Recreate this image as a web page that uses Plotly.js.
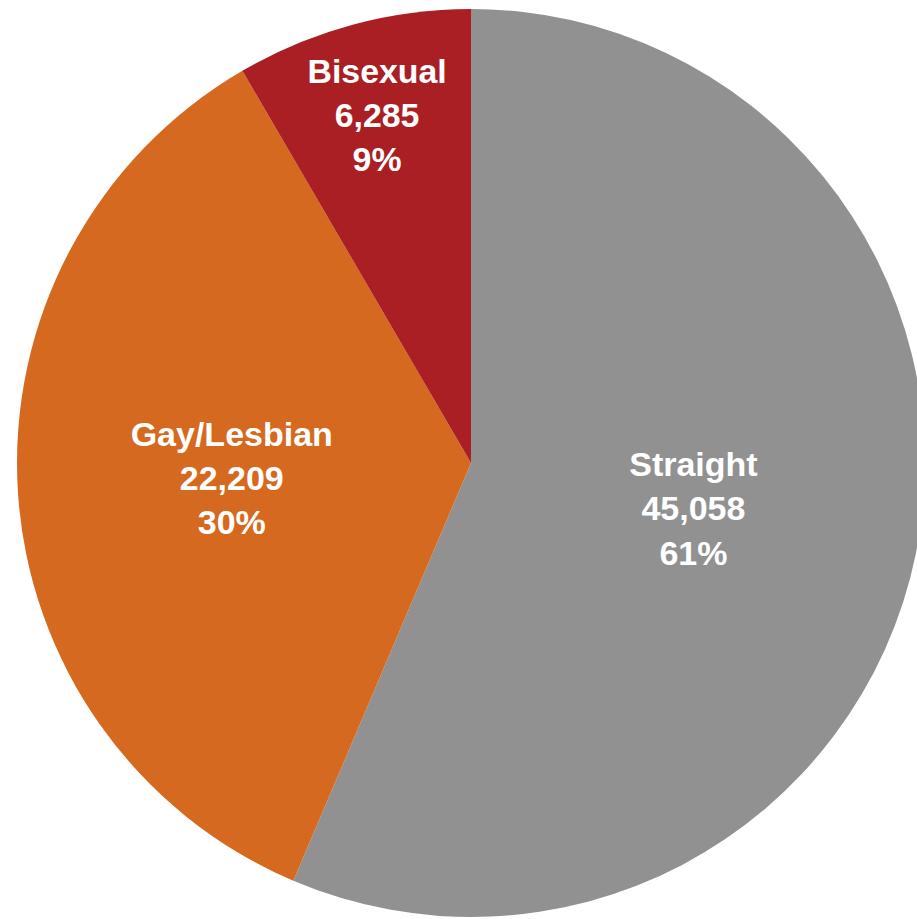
<!DOCTYPE html>
<html>
<head>
<meta charset="utf-8">
<script src="https://cdn.plot.ly/plotly-3.0.1.min.js"></script>
<style>
html, body { margin: 0; padding: 0; overflow: hidden; background: #fff; }
#chart { width: 935px; height: 919px; }
</style>
</head>
<body>
<div id="chart"></div>
<script>
// Categories and the figures printed on the chart
const categories = ["Straight", "Gay/Lesbian", "Bisexual"];
const counts = [45058, 22209, 6285];
const percentLabels = ["61%", "30%", "9%"];
// Slice sizes as actually drawn in the reference
const drawnShares = [56.4, 35.2, 8.4];
const sliceColors = ["#919191", "#d4691f", "#a91f24"];

const W = 935, H = 919;
const trace = {
  type: "pie",
  labels: categories,
  values: drawnShares,
  customdata: categories.map((c, i) => [counts[i].toLocaleString("en-US"), percentLabels[i]]),
  sort: false,
  direction: "clockwise",
  rotation: 0,
  marker: { colors: sliceColors, line: { width: 0 } },
  texttemplate: "%{label}<br>%{customdata[0]}<br>%{customdata[1]}",
  textposition: "inside",
  insidetextorientation: "horizontal",
  textfont: { family: "Liberation Sans, Arial, sans-serif", size: 34, color: "#ffffff", weight: "bold" },
  hoverinfo: "none",
  showlegend: false,
  domain: { x: [17 / W, 925 / W], y: [1 - 917 / H, 1 - 9 / H] }
};

Plotly.newPlot("chart", [trace], {
  width: W, height: H,
  margin: { l: 0, r: 0, t: 0, b: 0 },
  paper_bgcolor: "#ffffff",
  showlegend: false
}, { staticPlot: true });
</script>
</body>
</html>
